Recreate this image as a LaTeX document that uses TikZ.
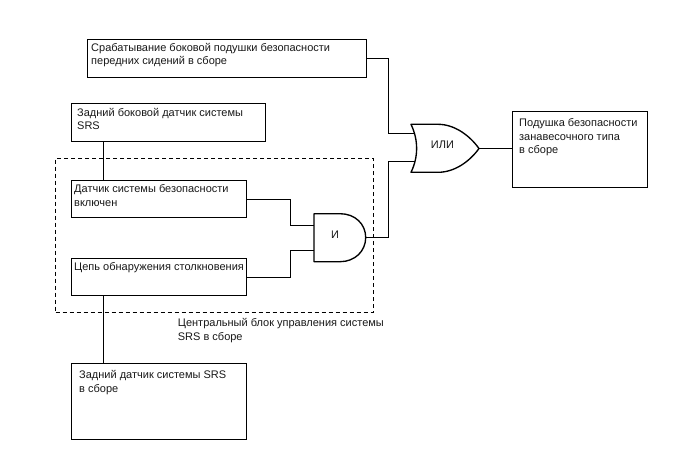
\documentclass[tikz,border=0pt]{standalone}
\usepackage{fontspec}
\setmainfont{Liberation Sans}
\begin{document}
\begin{tikzpicture}[x=1pt,y=-1pt,
  ln/.style={line width=1.35pt,black},
  boxn/.style={draw,line width=1.35pt,minimum size=0pt,inner sep=0pt,anchor=north west},
  txt/.style={anchor=north west,inner sep=0pt,align=left,font=\fontsize{11}{13.5}\selectfont,text=black!90},
  gate/.style={ln,line join=round},
  gatetxt/.style={inner sep=0pt,font=\fontsize{11}{13}\selectfont,text=black!90}]
\useasboundingbox (0,0) rectangle (688,463);
\path[fill=white] (0,0) rectangle (688,463);
% dashed frame
\node[boxn,dash pattern=on 4.5pt off 2.5pt,minimum width=317.5pt,minimum height=154.5pt] (frame) at (55,157.5) {};
% boxes
\node[boxn,minimum width=279.5pt,minimum height=37.5pt] (top) at (86.5,39) {};
\node[boxn,minimum width=194pt,minimum height=38pt] (rear) at (71,103) {};
\node[boxn,minimum width=175pt,minimum height=37pt] (sens) at (71,180) {};
\node[boxn,minimum width=175pt,minimum height=37pt] (circ) at (71,258) {};
\node[boxn,minimum width=175pt,minimum height=76pt] (back) at (71,363) {};
\node[boxn,minimum width=135pt,minimum height=76pt] (bag) at (511.7,111) {};
% texts
\node[txt] (ttop) at (91,43) {Срабатывание боковой подушки безопасности\\передних сидений в сборе};
\node[txt] (trear) at (77,108) {Задний боковой датчик системы\\SRS};
\node[txt] (tsens) at (74,184.5) {Датчик системы безопасности\\включен};
\node[txt] (tcirc) at (74,262) {Цепь обнаружения столкновения};
\node[txt] (tback) at (79,370.5) {Задний датчик системы SRS\\в сборе};
\node[txt] (tbag) at (519,118.5) {Подушка безопасности\\занавесочного типа\\в сборе};
\node[txt] (tframe) at (177.7,318.5) {Центральный блок управления системы\\SRS в сборе};
% gates
\coordinate (andtop) at (314,213.7);
\coordinate (andbot) at (314,261.7);
\coordinate (andout) at (365.7,237.5);
\draw[gate,fill=white] (andtop) -- (340,213.7) .. controls (355,213.7) and (365.7,224) .. (andout)
  .. controls (365.7,251) and (355,261.7) .. (340,261.7) -- (andbot) -- cycle;
\node[gatetxt] (andl) at (335,235) {И};
\coordinate (ortop) at (411,124.3);
\coordinate (orbot) at (411,172.3);
\coordinate (orout) at (479,148.5);
\draw[gate,fill=white] (ortop) -- (438,124.3) .. controls (455,124.3) and (470,136) .. (orout)
  .. controls (470,161) and (455,172.3) .. (438,172.3) -- (orbot)
  .. controls (418.5,157) and (418.5,140) .. (ortop) -- cycle;
\node[gatetxt] (orl) at (442.5,145) {ИЛИ};
% connectors
\coordinate (orin1) at (414.5,133.5);
\coordinate (orin2) at (414.5,161.5);
\coordinate (andin1) at (314,225.5);
\coordinate (andin2) at (314,250.5);
\draw[ln] (rear.south -| 103.5,0) -- (sens.north -| 103.5,0);
\draw[ln] (circ.south -| 103.5,0) -- (back.north -| 103.5,0);
\draw[ln] (sens.east) -| (290.5,225.5) -- (andin1);
\draw[ln] (circ.east) -| (290.5,250.5) -- (andin2);
\draw[ln] (top.east) -| (388.5,133.5) -- (orin1);
\draw[ln] (andout) -| (388.5,161.5) -- (orin2);
\draw[ln] (orout) -- (bag.west |- orout);
\end{tikzpicture}
\end{document}
